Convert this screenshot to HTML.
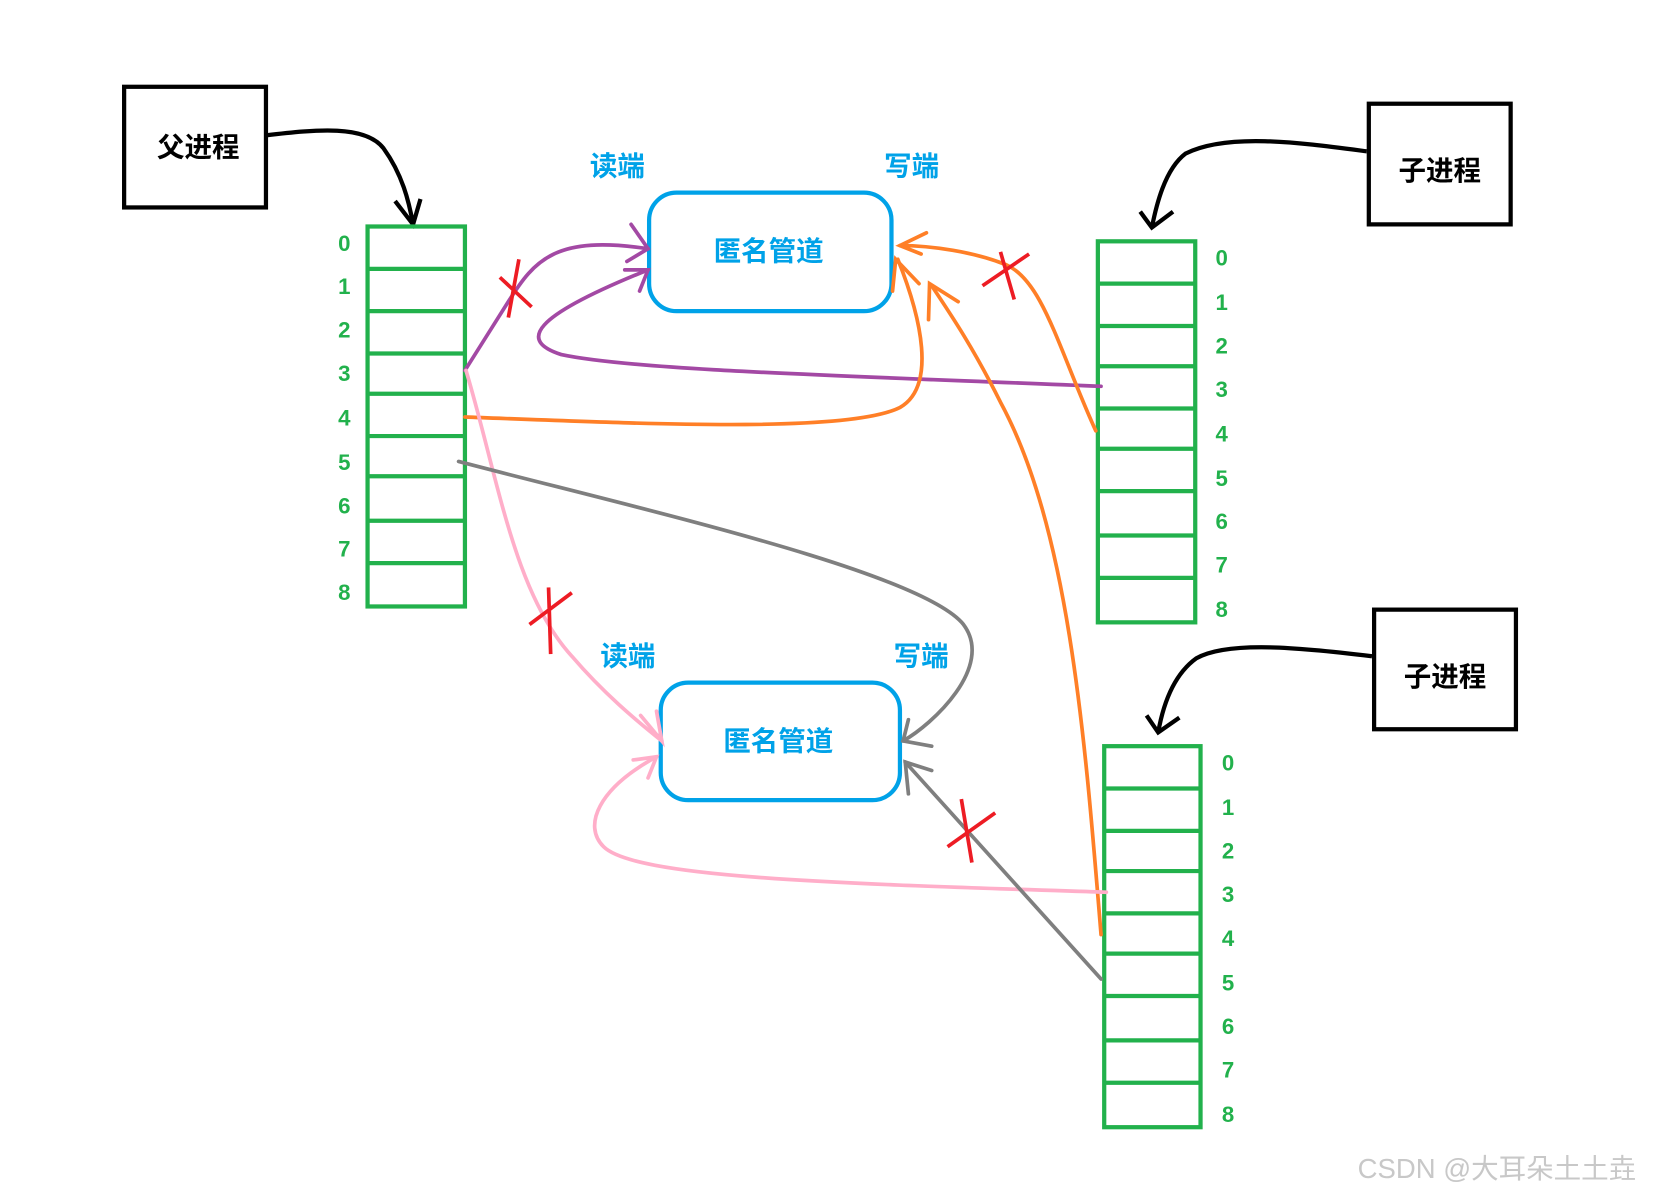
<!DOCTYPE html>
<html><head><meta charset="utf-8"><style>
html,body{margin:0;padding:0;background:#fff;}
svg{display:block;}
text{font-family:"Liberation Sans","Noto Sans CJK SC",sans-serif;font-weight:bold;}
</style></head><body>
<svg width="1657" height="1196" viewBox="0 0 1565 1130" xmlns="http://www.w3.org/2000/svg">
<rect width="1565" height="1130" fill="#fff"/>
<g fill="none" stroke="#000" stroke-width="4">
<rect x="117" y="82" width="134" height="114"/>
<rect x="1293" y="98" width="134" height="114"/>
<rect x="1298" y="576" width="134" height="113"/>
<path d="M250,128 C300,122 345,118 362,140 C380,165 386,190 390,212"/>
<path d="M373,190 L390,212 L397,188"/>
<path d="M1291,143 C1230,135 1160,125 1120,145 C1100,160 1092,195 1088,215"/>
<path d="M1077,200 L1088,215 L1108,200"/>
<path d="M1296,620 C1230,612 1160,605 1130,622 C1105,640 1097,675 1094,692"/>
<path d="M1083,676 L1094,692 L1114,678"/>
</g>
<g fill="none" stroke="#22b14c" stroke-width="4">
<rect x="347" y="214" width="92" height="359"/>
<path d="M347,254H439M347,294H439M347,334H439M347,372H439M347,412H439M347,450H439M347,492H439M347,532H439"/>
<rect x="1037" y="228" width="92" height="360"/>
<path d="M1037,268H1129M1037,308H1129M1037,346H1129M1037,386H1129M1037,424H1129M1037,464H1129M1037,506H1129M1037,546H1129"/>
<rect x="1043" y="705" width="91" height="360"/>
<path d="M1043,745H1134M1043,785H1134M1043,823H1134M1043,863H1134M1043,901H1134M1043,941H1134M1043,983H1134M1043,1023H1134"/>
</g>
<g fill="#22b14c" font-size="21" text-anchor="middle">
<text x="325" y="237">0</text><text x="325" y="278">1</text><text x="325" y="319">2</text><text x="325" y="360">3</text><text x="325" y="402">4</text><text x="325" y="444">5</text><text x="325" y="485">6</text><text x="325" y="526">7</text><text x="325" y="567">8</text>
<text x="1154" y="251">0</text><text x="1154" y="293">1</text><text x="1154" y="334">2</text><text x="1154" y="375">3</text><text x="1154" y="417">4</text><text x="1154" y="459">5</text><text x="1154" y="500">6</text><text x="1154" y="541">7</text><text x="1154" y="583">8</text>
<text x="1160" y="728">0</text><text x="1160" y="770">1</text><text x="1160" y="811">2</text><text x="1160" y="852">3</text><text x="1160" y="894">4</text><text x="1160" y="936">5</text><text x="1160" y="977">6</text><text x="1160" y="1018">7</text><text x="1160" y="1060">8</text>
</g>
<g fill="#000" font-size="26" text-anchor="middle">
<text x="187" y="148">父进程</text>
<text x="1360" y="170">子进程</text>
<text x="1365" y="648">子进程</text>
</g>
<g fill="none" stroke="#00a2e8" stroke-width="4">
<rect x="613" y="182" width="229" height="112" rx="26"/>
<rect x="624" y="645" width="226" height="111" rx="26"/>
</g>
<g fill="#00a2e8" font-size="26" text-anchor="middle">
<text x="726" y="246">匿名管道</text>
<text x="735" y="709">匿名管道</text>
<text x="583" y="166">读端</text><text x="861" y="166">写端</text>
<text x="593" y="629">读端</text><text x="870" y="629">写端</text>
</g>
<g fill="none" stroke-width="3.5" stroke-linecap="round">
<path stroke="#a349a4" d="M439,350 L480,285 C505,245 525,222 612,235"/>
<path stroke="#a349a4" d="M596,212 L612,235 L592,247"/>
<path stroke="#a349a4" d="M1040,365 C800,355 600,350 530,335 C490,322 500,300 612,255"/>
<path stroke="#a349a4" d="M590,255 L612,255 L604,275"/>
<path stroke="#ff7f27" d="M439,394 C600,400 800,410 850,385 C885,365 870,300 848,245"/>
<path stroke="#ff7f27" d="M843,275 L846,245 L868,268"/>
<path stroke="#ff7f27" d="M1035,407 C1000,330 985,265 950,250 C920,238 880,232 850,232"/>
<path stroke="#ff7f27" d="M875,220 L850,232 L870,240"/>
<path stroke="#ff7f27" d="M1040,883 C1025,700 1010,500 945,380 C920,330 900,300 880,270"/>
<path stroke="#ff7f27" d="M877,302 L878,268 L905,285"/>
<path stroke="#ffaec9" d="M440,350 C470,450 485,560 540,620 C570,655 600,680 625,700"/>
<path stroke="#ffaec9" d="M605,676 L625,700 L620,672"/>
<path stroke="#ffaec9" d="M1045,843 C800,835 600,830 570,800 C550,780 565,745 620,715"/>
<path stroke="#ffaec9" d="M598,718 L620,715 L612,735"/>
<path stroke="#7f7f7f" d="M433,436 C600,480 870,540 910,590 C940,630 880,685 853,700"/>
<path stroke="#7f7f7f" d="M858,680 L853,700 L880,705"/>
<path stroke="#7f7f7f" d="M1040,925 L855,720"/>
<path stroke="#7f7f7f" d="M858,750 L855,720 L880,728"/>
</g>
<g stroke="#ed1c24" stroke-width="3.5" fill="none">
<path d="M472,262 L502,290 M490,245 L480,300"/>
<path d="M500,590 L540,560 M518,555 L520,618"/>
<path d="M928,270 L972,240 M945,238 L958,283"/>
<path d="M895,800 L940,768 M908,755 L918,815"/>
</g>
<text x="1414" y="1113" fill="#c8c8c8" font-size="26" style="font-weight:normal" text-anchor="middle">CSDN @大耳朵土土垚</text>
</svg>
</body></html>
